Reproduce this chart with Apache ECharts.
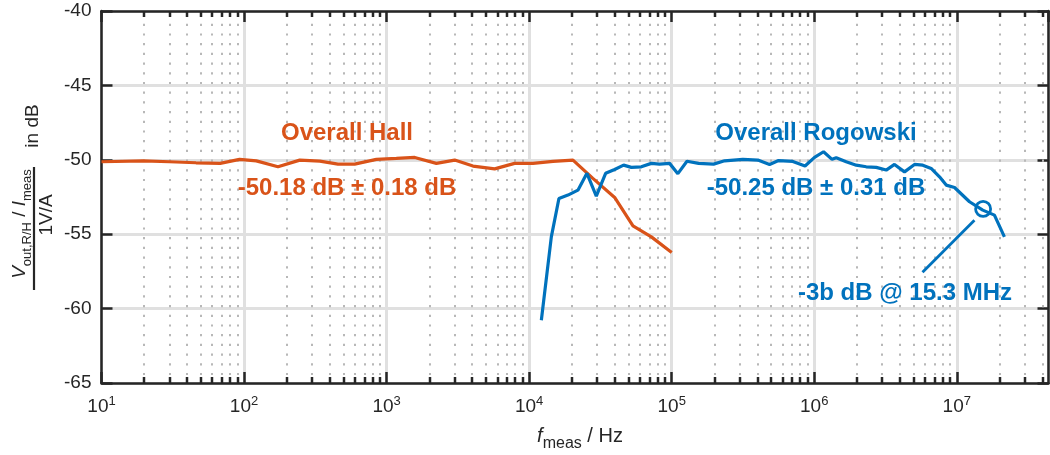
<!DOCTYPE html>
<html>
<head>
<meta charset="utf-8">
<script src="https://cdn.jsdelivr.net/npm/echarts@6/dist/echarts.min.js"></script>
<style>
html,body{margin:0;padding:0;background:#fff;}
#chart{width:1050px;height:455px;}
</style>
</head>
<body>
<div id="chart"></div>
<script>
// ---- axis ranges ----
const X_MIN = 10, X_MAX = 4.4e7;
const Y_MIN = -65, Y_MAX = -40, Y_STEP = 5;
const xDecades = [10, 100, 1e3, 1e4, 1e5, 1e6, 1e7];
const minorMultipliers = [2, 3, 4, 5, 6, 7, 8, 9];

// ---- Overall Hall (orange) ----
const hallFreq = [10, 19.6, 30, 46, 68, 93, 122, 173, 246, 340, 456, 597, 848, 1171, 1575, 2235, 3004, 4037, 5728, 7900, 10640, 14700, 20300, 28000, 39800, 53500, 72000, 100000];
const hallDb = [-50.13, -50.07, -50.13, -50.20, -50.24, -49.97, -50.07, -50.47, -50.02, -50.09, -50.29, -50.29, -49.97, -49.91, -49.84, -50.24, -50.02, -50.42, -50.61, -50.24, -50.24, -50.11, -50.02, -51.25, -52.53, -54.44, -55.18, -56.23];

// ---- Overall Rogowski (blue) ----
const rogFreq = [12180, 14310, 16180, 18720, 21990, 25430, 29590, 34400, 39780, 45990, 52100, 61200, 71940, 82270, 96670, 110500, 128000, 154500, 196800, 235000, 315700, 402000, 486000, 562000, 708000, 862000, 1005000, 1162000, 1333000, 1427000, 1676000, 1971000, 2316000, 2722000, 3199000, 3657000, 4298000, 5051000, 5775000, 6610000, 7565000, 8430000, 9640000, 12280000, 15220000, 18370000, 21590000];
const rogDb = [-60.78, -55.18, -52.60, -52.37, -52.04, -50.91, -52.44, -50.91, -50.65, -50.36, -50.51, -50.47, -50.24, -50.29, -50.24, -50.93, -50.10, -50.24, -50.29, -50.07, -49.97, -50.02, -50.31, -50.05, -50.11, -50.42, -49.84, -49.46, -49.97, -49.86, -50.13, -50.36, -50.47, -50.51, -50.69, -50.31, -50.81, -50.31, -50.36, -50.58, -51.14, -51.70, -51.86, -52.82, -53.38, -53.72, -55.18];

// ---- -3 dB marker annotation ----
const cutoffPoint = [15.3e6, -53.3];
const cutoffLineStart = [5.75e6, -57.55];
const cutoffLineEnd = [1.33e7, -54.06];

// ---- texts ----
const hallTitle = 'Overall Hall';
const hallStat = '-50.18 dB ± 0.18 dB';
const rogTitle = 'Overall Rogowski';
const rogStat = '-50.25 dB ± 0.31 dB';
const cutoffText = '-3b dB @ 15.3 MHz';

const ORANGE = '#D95319', BLUE = '#0072BD', AX = '#262626';
const FONT = '"Liberation Sans", Arial, Helvetica, sans-serif';

const minorTicks = [];
xDecades.forEach(d => minorMultipliers.forEach(m => { const v = d * m; if (v < X_MAX) minorTicks.push(v); }));

const zip = (a, b) => a.map((v, i) => [v, b[i]]);

const chart = echarts.init(document.getElementById('chart'), null, {renderer: 'canvas'});

const xLabelFmt = function (value) {
  const e = Math.log10(value);
  if (Math.abs(e - Math.round(e)) > 1e-6) return '';
  return '{b|10}{s|' + Math.round(e) + '}';
};

const axisCommonX = {
  type: 'log', logBase: 10, min: X_MIN, max: X_MAX,
  axisLine: {show: true, onZero: false, lineStyle: {color: AX, width: 2.5}},
  axisTick: {show: true, inside: true, length: 11, lineStyle: {color: AX, width: 2.5}},
  minorTick: {show: false},
  minorSplitLine: {show: false}
};
const axisCommonY = {
  type: 'value', min: Y_MIN, max: Y_MAX, interval: Y_STEP,
  axisLine: {show: true, onZero: false, lineStyle: {color: AX, width: 2.5}},
  axisTick: {show: true, inside: true, length: 11, lineStyle: {color: AX, width: 2.5}}
};

const option = {
  animation: false,
  backgroundColor: '#ffffff',
  textStyle: {fontFamily: FONT},
  grid: {left: 101.5, right: 1.5, top: 11, bottom: 72, containLabel: false},
  xAxis: [
    Object.assign({}, axisCommonX, {
      position: 'bottom',
      axisLabel: {
        show: true, margin: 12, formatter: xLabelFmt, showMaxLabel: false, color: AX,
        rich: {
          b: {fontSize: 19, fontFamily: FONT, color: AX, lineHeight: 19, padding: [5, 0, 0, 0]},
          s: {fontSize: 13, fontFamily: FONT, color: AX, lineHeight: 14, verticalAlign: 'top'}
        }
      },
      splitLine: {show: true, lineStyle: {color: '#e0e0e0', width: 3}}
    }),
    Object.assign({}, axisCommonX, {
      position: 'top',
      axisLabel: {show: false},
      splitLine: {show: false}
    })
  ],
  yAxis: [
    Object.assign({}, axisCommonY, {
      position: 'left',
      axisLabel: {show: true, margin: 10, fontSize: 19, color: AX, fontFamily: FONT},
      splitLine: {show: true, lineStyle: {color: '#e0e0e0', width: 3}}
    }),
    Object.assign({}, axisCommonY, {
      position: 'right',
      axisLabel: {show: false},
      splitLine: {show: false}
    })
  ],
  series: [
    {
      type: 'custom', name: 'minorGrid', silent: true, clip: false, z: 1,
      xAxisIndex: 0, yAxisIndex: 0,
      data: minorTicks.map(v => [v, Y_MIN]),
      renderItem: function (params, api) {
        const p = api.coord([api.value(0), Y_MIN]);
        const cs = params.coordSys;
        const top = cs.y, bottom = cs.y + cs.height, x = Math.round(p[0]);
        return {
          type: 'group', children: [
            {type: 'line', shape: {x1: x, y1: top + 3, x2: x, y2: bottom}, style: {stroke: '#b8b8b8', lineWidth: 2, lineDash: [2.2, 7.5]}},
            {type: 'line', shape: {x1: x, y1: bottom, x2: x, y2: bottom - 6}, style: {stroke: AX, lineWidth: 2.5}},
            {type: 'line', shape: {x1: x, y1: top, x2: x, y2: top + 6}, style: {stroke: AX, lineWidth: 2.5}}
          ]
        };
      }
    },
    {
      type: 'line', name: 'Overall Hall', data: zip(hallFreq, hallDb), z: 3,
      showSymbol: false, symbol: 'none',
      lineStyle: {color: ORANGE, width: 3.2}, itemStyle: {color: ORANGE}
    },
    {
      type: 'line', name: 'Overall Rogowski', data: zip(rogFreq, rogDb), z: 4,
      showSymbol: false, symbol: 'none',
      lineStyle: {color: BLUE, width: 3.2}, itemStyle: {color: BLUE},
      markPoint: {
        silent: true, animation: false,
        data: [{coord: cutoffPoint, symbol: 'circle', symbolSize: 15,
          itemStyle: {color: 'rgba(0,0,0,0)', borderColor: BLUE, borderWidth: 2.8},
          label: {show: false}}]
      },
      markLine: {
        silent: true, animation: false, symbol: ['none', 'none'],
        label: {show: false},
        lineStyle: {color: BLUE, width: 2.8, type: 'solid'},
        data: [[{coord: cutoffLineStart}, {coord: cutoffLineEnd}]]
      }
    }
  ],
  graphic: [
    // annotation texts
    {type: 'text', x: 347, y: 133, style: {text: hallTitle, fill: ORANGE, font: 'bold 24px ' + FONT, align: 'center', verticalAlign: 'middle'}, z: 10},
    {type: 'text', x: 347, y: 188, style: {text: hallStat, fill: ORANGE, font: 'bold 24px ' + FONT, align: 'center', verticalAlign: 'middle'}, z: 10},
    {type: 'text', x: 816, y: 133, style: {text: rogTitle, fill: BLUE, font: 'bold 24px ' + FONT, align: 'center', verticalAlign: 'middle'}, z: 10},
    {type: 'text', x: 816, y: 188, style: {text: rogStat, fill: BLUE, font: 'bold 24px ' + FONT, align: 'center', verticalAlign: 'middle'}, z: 10},
    {type: 'text', x: 905, y: 293, style: {text: cutoffText, fill: BLUE, font: 'bold 24px ' + FONT, align: 'center', verticalAlign: 'middle'}, z: 10},
    // x axis title
    {type: 'text', x: 580, y: 437, z: 10, style: {
      text: '{i|f}{s|meas}{n| / Hz}', align: 'center', verticalAlign: 'middle',
      rich: {
        i: {fontSize: 20, fontStyle: 'italic', fontFamily: FONT, fill: AX, lineHeight: 22, verticalAlign: 'top'},
        n: {fontSize: 20, fontFamily: FONT, fill: AX, lineHeight: 22, verticalAlign: 'top'},
        s: {fontSize: 16, fontFamily: FONT, fill: AX, lineHeight: 15, padding: [13, 0, 0, 0]}
      }
    }},
    // y axis title: numerator
    {type: 'text', x: 21, y: 224, rotation: Math.PI / 2, z: 10, style: {
      text: '{i|V}{s|out,R/H}{n| / }{i|I}{s|meas}', align: 'center', verticalAlign: 'middle',
      rich: {
        i: {fontSize: 19, fontStyle: 'italic', fontFamily: FONT, fill: AX, lineHeight: 22, verticalAlign: 'top'},
        n: {fontSize: 19, fontFamily: FONT, fill: AX, lineHeight: 22, verticalAlign: 'top'},
        s: {fontSize: 13, fontFamily: FONT, fill: AX, lineHeight: 13, padding: [13, 0, 0, 0]}
      }
    }},
    // fraction bar
    {type: 'line', z: 10, shape: {x1: 34, y1: 167, x2: 34, y2: 290}, style: {stroke: AX, lineWidth: 2.2}},
    // denominator
    {type: 'text', x: 47, y: 215, rotation: Math.PI / 2, z: 10, style: {text: '1V/A', fill: AX, font: '19px ' + FONT, align: 'center', verticalAlign: 'middle'}},
    // in dB
    {type: 'text', x: 33, y: 126, rotation: Math.PI / 2, z: 10, style: {text: 'in dB', fill: AX, font: '19px ' + FONT, align: 'center', verticalAlign: 'middle'}}
  ]
};

chart.setOption(option);
</script>
</body>
</html>
